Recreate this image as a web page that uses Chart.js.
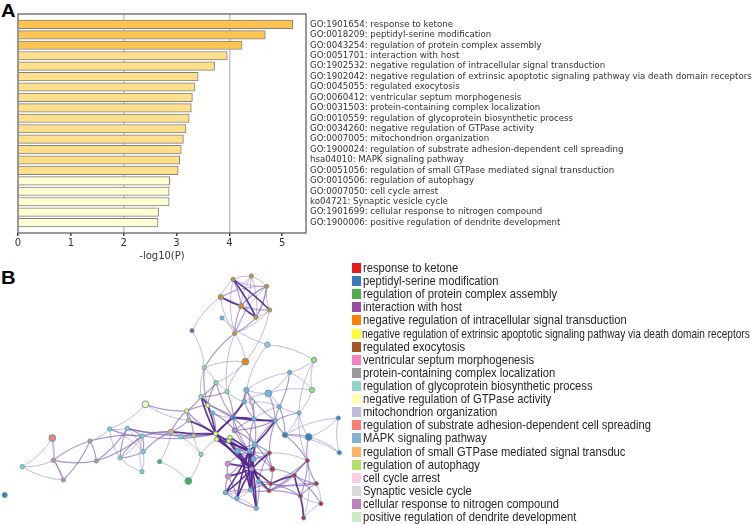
<!DOCTYPE html>
<html>
<head>
<meta charset="utf-8">
<script src="https://cdn.jsdelivr.net/npm/chart.js@4"></script>
<style>
    body { margin: 0; background: #fff; width: 753px; height: 525px; overflow: hidden; position: relative; }
    canvas { position: absolute; left: 0; }
    #barChart { top: 0; }
    #netChart { top: 265px; }
    .panel { position: absolute; left: 1px; font: bold 18px "Liberation Sans", sans-serif; color: #000; transform: scaleX(1.12); transform-origin: left top; }
    #legendB { position: absolute; left: 352px; top: 263px; margin: 0; padding: 0; list-style: none; }
    #legendB li { position: relative; height: 13.12px; white-space: nowrap; font: 11.2px/13px "Liberation Sans", sans-serif; color: #262626; }
    #legendB i { position: absolute; left: 0; top: 0; width: 9px; height: 10px; }
    #legendB span { position: absolute; left: 11px; top: -1px; transform-origin: left center; transform: scaleY(1.12); }
</style>
</head>
<body>
<div class="panel" style="top:1px">A</div>
<div class="panel" style="top:268px">B</div>
<canvas id="barChart" width="753" height="262"></canvas>
<canvas id="netChart" width="345" height="260"></canvas>
<ul id="legendB"></ul>

<script>
/* panel A */
const barLabels = [
    'GO:1901654: response to ketone',
    'GO:0018209: peptidyl-serine modification',
    'GO:0043254: regulation of protein complex assembly',
    'GO:0051701: interaction with host',
    'GO:1902532: negative regulation of intracellular signal transduction',
    'GO:1902042: negative regulation of extrinsic apoptotic signaling pathway via death domain receptors',
    'GO:0045055: regulated exocytosis',
    'GO:0060412: ventricular septum morphogenesis',
    'GO:0031503: protein-containing complex localization',
    'GO:0010559: regulation of glycoprotein biosynthetic process',
    'GO:0034260: negative regulation of GTPase activity',
    'GO:0007005: mitochondrion organization',
    'GO:1900024: regulation of substrate adhesion-dependent cell spreading',
    'hsa04010: MAPK signaling pathway',
    'GO:0051056: regulation of small GTPase mediated signal transduction',
    'GO:0010506: regulation of autophagy',
    'GO:0007050: cell cycle arrest',
    'ko04721: Synaptic vesicle cycle',
    'GO:1901699: cellular response to nitrogen compound',
    'GO:1900006: positive regulation of dendrite development'
];
const barValues = [5.20, 4.68, 4.24, 3.96, 3.72, 3.41, 3.35, 3.30, 3.28, 3.24, 3.18, 3.13, 3.09, 3.06, 3.03, 2.87, 2.86, 2.86, 2.66, 2.65];
const barTiers = [0, 0, 0, 1, 1, 1, 1, 1, 1, 1, 1, 1, 1, 1, 1, 2, 2, 2, 2, 2];
const tierColors = ['#FEC44F', '#FEDF8C', '#FFFFD4'];
const xTicks = [0, 1, 2, 3, 4, 5];
const xMax = 5.45;

/* panel B */
const legendTerms = [
    'response to ketone', 'peptidyl-serine modification', 'regulation of protein complex assembly',
    'interaction with host', 'negative regulation of intracellular signal transduction',
    'negative regulation of extrinsic apoptotic signaling pathway via death domain receptors',
    'regulated exocytosis', 'ventricular septum morphogenesis', 'protein-containing complex localization',
    'regulation of glycoprotein biosynthetic process', 'negative regulation of GTPase activity',
    'mitochondrion organization', 'regulation of substrate adhesion-dependent cell spreading',
    'MAPK signaling pathway', 'regulation of small GTPase mediated signal transduc', 'regulation of autophagy',
    'cell cycle arrest', 'Synaptic vesicle cycle', 'cellular response to nitrogen compound',
    'positive regulation of dendrite development'
];
const termColors = ['#E41A1C', '#377EB8', '#4DAF4A', '#984EA3', '#FF7F00', '#FFFF33', '#A65628', '#F781BF', '#999999', '#8DD3C7',
    '#FFFFB3', '#BEBADA', '#FB8072', '#80B1D3', '#FDB462', '#B3DE69', '#FCCDE5', '#D9D9D9', '#BC80BD', '#CCEBC5'];

const nodeX = [699, 754, 800, 662, 723, 809, 768, 704, 666, 576, 802, 736, 942, 869, 936, 613, 648, 681, 739, 805, 603,
    623, 560, 733, 757, 838, 897, 638, 700, 762, 826, 1015, 566, 513, 704, 855, 926, 543, 581, 647, 650, 686, 690,
    765, 1018, 713, 748, 808, 603, 761, 683, 922, 817, 755, 684, 883, 776, 812, 949, 807, 751, 676, 711, 901, 963,
    769, 911, 436, 329, 382, 427, 430, 360, 426, 157, 270, 160, 289, 67, 190, 479, 565, 14];
const nodeY = [43, 33, 64, 96, 123, 135, 157, 205, 159, 197, 239, 290, 285, 322, 375, 308, 353, 380, 375, 385, 395,
    421, 438, 410, 411, 425, 444, 444, 458, 462, 467, 459, 466, 500, 496, 510, 516, 515, 512, 506, 523, 528, 517,
    539, 563, 558, 558, 564, 568, 582, 596, 587, 612, 612, 634, 631, 650, 656, 656, 677, 675, 683, 700, 693, 716,
    730, 759, 418, 492, 490, 513, 560, 579, 620, 519, 528, 586, 588, 605, 645, 590, 648, 690];
const nodeTerm = [4, 4, 4, 4, 4, 4, 4, 4, 13, 3, 11, 4, 15, 13, 15, 15, 15, 15, 13, 13, 15,
    5, 5, 13, 16, 13, 13, 13, 1, 13, 13, 1, 14, 14, 18, 1, 1, 9, 14, 5, 5, 5, 5,
    13, 1, 13, 13, 0, 15, 13, 7, 0, 0, 7, 7, 0, 13, 0, 0, 0, 13, 13, 13, 0, 0,
    13, 0, 10, 9, 9, 9, 9, 9, 9, 12, 12, 12, 12, 9, 12, 2, 2, 1];
const nodeSize = [1, 1, 1, 2, 2, 1, 1, 1, 1, 1, 2, 3, 2, 1, 2, 1, 1, 1, 2, 3, 1,
    1, 1, 1, 2, 1, 1, 1, 1, 1, 1, 1, 1, 2, 2, 2, 3, 1, 1, 1, 1, 1, 1,
    2, 1, 2, 1, 1, 1, 2, 2, 1, 2, 1, 2, 1, 1, 1, 1, 1, 1, 1, 1, 1, 1,
    1, 1, 3, 1, 1, 1, 1, 1, 1, 3, 1, 1, 1, 1, 1, 1, 3, 2];

const lightEdges = [[0,1],[0,2],[1,2],[1,4],[1,6],[2,5],[3,0],[3,1],[3,2],[3,5],[3,6],[4,5],[5,6],[2,7],[1,7],[3,7],[5,7],
    [3,9],[9,15],[8,10],[10,12],[7,17],[7,11],[11,15],[11,16],[11,17],[5,11],[10,18],[12,13],[12,14],[13,14],[13,18],[13,19],
    [14,19],[14,26],[12,26],[15,16],[15,20],[16,17],[17,23],[18,23],[19,23],[19,25],[23,24],[24,25],[25,26],[26,35],[26,36],
    [35,31],[36,31],[36,44],[31,44],[35,44],[26,51],[33,48],[38,48],[48,40],[80,33],[80,81],[81,48],[67,68],[67,32],[68,75],
    [68,69],[68,71],[68,72],[69,71],[70,73],[71,73],[72,73],[74,78],[74,79],[76,78],[78,79],[74,76],[51,47],[61,62],[62,60],[60,65],
    [61,60],[62,65],[63,64],[58,64],[64,66],[51,66],[18,19],[29,25],[34,27],[28,27],[0,7],[4,2],[6,2],[33,37],[37,38],[70,37],[72,70]];
const midEdges = [[0,4],[2,4],[2,6],[4,7],[6,7],[7,15],[13,25],[15,21],[16,20],[16,21],[17,20],[16,28],[17,28],
    [22,20],[22,21],[22,39],[18,28],[18,23],[19,30],[23,29],[24,29],[25,30],[25,35],[26,30],[27,34],[28,34],[34,43],[34,46],
    [35,36],[30,35],[35,51],[36,51],[37,39],[38,39],[32,33],[22,32],[22,38],[67,22],[69,70],[69,72],[70,71],[70,72],[71,72],
    [68,70],[70,33],[70,39],[71,33],[69,39],[75,77],[75,76],[75,79],[77,69],[75,70],[77,70],[76,79],[76,77],[39,40],[39,41],[40,41],
    [40,42],[41,42],[42,49],[45,46],[45,49],[43,49],[46,47],[47,49],[50,54],[50,46],[54,46],[53,56],[53,52],[52,55],[52,46],
    [56,57],[57,58],[57,59],[56,59],[52,57],[55,58],[55,51],[51,58],[51,63],[58,63],[55,64],[59,55],[59,58],[54,61],[54,62],[60,56],
    [43,47],[30,47],[43,30],[47,52],[43,52],[42,45],[41,45],[40,45],[39,45],[43,45],[28,43],[28,46],[29,43],[29,46],[34,29],[34,30],
    [56,47],[60,59],[60,57],[60,61],[65,61],[65,56],[59,63],[59,51],[57,63],[57,51],[18,29],[18,30],[21,28],[21,27],[27,39],[20,28],[33,22],[69,33]];
const heavyEdges = [[0,5],[3,4],[0,6],[4,6],[20,21],[20,39],[21,39],[28,39],[23,39],[29,30],[28,29],[28,30],[30,43],[33,39],[32,39],
    [39,46],[40,46],[41,46],[42,46],[39,53],[40,53],[41,53],[45,53],[46,53],[49,53],[43,53],[43,46],[47,53],[50,53],[54,53],
    [53,61],[53,62],[53,60],[53,65],[57,55],[55,63],[63,66],[46,60],[46,61],[46,62],[46,65],[46,56],[46,49],[53,59],[53,57],[49,60],[45,60]];

/* plot frame for panel A */
const framePlugin = {
    id: 'frame',
    afterDraw(chart) {
        const area = chart.chartArea;
        const ctx = chart.ctx;
        ctx.save();
        ctx.strokeStyle = '#555';
        ctx.lineWidth = 1.2;
        ctx.strokeRect(area.left, area.top, area.width, area.height);
        ctx.restore();
    }
};

new Chart(document.getElementById('barChart'), {
    type: 'bar',
    plugins: [framePlugin],
    data: {
        // blank rows keep one step of air above and below the bars
        labels: ['', ...barLabels, ''],
        datasets: [{
            data: [null, ...barValues, null],
            backgroundColor: [null, ...barTiers.map(t => tierColors[t]), null],
            borderColor: '#808080',
            borderWidth: 1,
            barThickness: 8.5
        }]
    },
    options: {
        indexAxis: 'y',
        responsive: false,
        animation: false,
        layout: { padding: { top: 14, left: 18, right: 0, bottom: 0 } },
        plugins: { legend: { display: false }, tooltip: { enabled: false } },
        scales: {
            x: {
                min: 0,
                max: xMax,
                afterBuildTicks: axis => { axis.ticks = xTicks.map(v => ({ value: v })); },
                afterFit: axis => { axis.height = 29; },
                border: { display: false },
                grid: {
                    color: c => (c.tick && (c.tick.value === 2 || c.tick.value === 4)) ? '#c4c4c4' : 'transparent',
                    lineWidth: 1.5,
                    tickColor: '#444',
                    tickLength: 3
                },
                ticks: { color: '#333', font: { family: 'DejaVu Sans', size: 10 }, padding: 1, maxRotation: 0 },
                title: { display: true, text: '-log10(P)', color: '#333', font: { family: 'DejaVu Sans', size: 10 }, padding: 0 }
            },
            y: {
                position: 'right',
                offset: false,
                afterFit: axis => { axis.width = 753 - 306; },
                border: { display: false },
                grid: { display: false, drawTicks: false },
                ticks: { autoSkip: false, color: '#333', font: { family: 'DejaVu Sans', size: 8.63 }, padding: 4 }
            }
        }
    }
});

/* edges go under the nodes, bent a little like the bundled originals */
function drawEdges(chart, edges, color, width, curve) {
    const ctx = chart.ctx;
    const sx = chart.scales.x;
    const sy = chart.scales.y;
    ctx.strokeStyle = color;
    ctx.lineWidth = width;
    edges.forEach((edge, i) => {
        const x1 = sx.getPixelForValue(nodeX[edge[0]]);
        const y1 = sy.getPixelForValue(nodeY[edge[0]]);
        const x2 = sx.getPixelForValue(nodeX[edge[1]]);
        const y2 = sy.getPixelForValue(nodeY[edge[1]]);
        const bend = i % 2 ? curve : -curve;
        ctx.beginPath();
        ctx.moveTo(x1, y1);
        ctx.quadraticCurveTo((x1 + x2) / 2 - (y2 - y1) * bend, (y1 + y2) / 2 + (x2 - x1) * bend, x2, y2);
        ctx.stroke();
    });
}

const edgePlugin = {
    id: 'edges',
    beforeDatasetsDraw(chart) {
        chart.ctx.save();
        drawEdges(chart, lightEdges, 'rgba(128,100,190,0.45)', 1, 0.13);
        drawEdges(chart, midEdges, 'rgba(116,88,175,0.6)', 1.2, 0.1);
        drawEdges(chart, heavyEdges, 'rgba(84,39,143,0.92)', 1.7, 0.05);
        chart.ctx.restore();
    }
};

const nodeRadius = [0, 2.1, 2.6, 3.4];

new Chart(document.getElementById('netChart'), {
    type: 'scatter',
    plugins: [edgePlugin],
    data: {
        datasets: [{
            data: nodeX.map((x, i) => ({ x: x, y: nodeY[i] })),
            pointBackgroundColor: nodeTerm.map(t => termColors[t]),
            pointBorderColor: '#5a9fb8',
            pointBorderWidth: 1,
            pointRadius: nodeSize.map(s => nodeRadius[s])
        }]
    },
    options: {
        responsive: false,
        animation: false,
        layout: { padding: 0, autoPadding: false },
        plugins: { legend: { display: false }, tooltip: { enabled: false } },
        scales: {
            x: { display: false, min: 0, max: 1035 },
            y: { display: false, min: 0, max: 780, reverse: true }
        }
    }
});

const legendList = document.getElementById('legendB');
legendTerms.forEach((term, i) => {
    const row = document.createElement('li');
    const box = document.createElement('i');
    const text = document.createElement('span');
    box.style.background = termColors[i];
    text.innerText = term;
    row.appendChild(box);
    row.appendChild(text);
    legendList.appendChild(row);
    // the long entry is squeezed to fit in the original
    if (i === 5) {
        text.style.left = '10px';
        text.style.transform = 'scale(' + (388 / text.offsetWidth) + ',1.12)';
    }
});
</script>
</body>
</html>
